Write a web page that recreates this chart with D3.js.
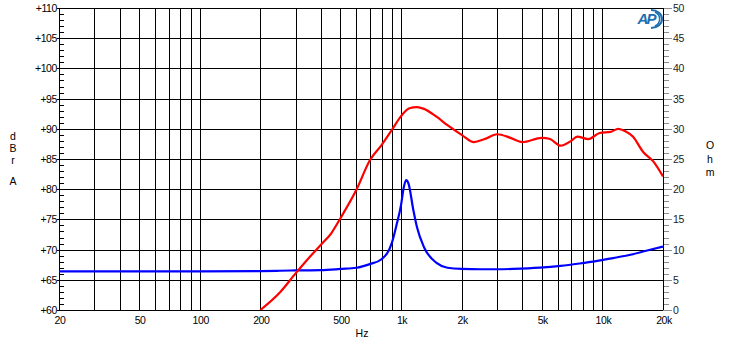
<!DOCTYPE html>
<html>
<head>
<meta charset="utf-8">
<script src="https://cdn.jsdelivr.net/npm/d3@7"></script>
<style>
  body { margin: 0; background: #fff; }
  svg { display: block; font-family: "Liberation Sans", Arial, sans-serif; }
</style>
</head>
<body>
<svg id="chart" width="730" height="343"></svg>
<script>
// SPL response (dBrA) and impedance (Ohm)
var splFreq = [200, 250, 300, 350, 400, 450, 500, 600, 700, 800, 900, 1000, 1100, 1200, 1300, 1500, 1700, 2000, 2300, 2600, 3000, 3500, 4000, 5000, 5500, 6200, 7000, 7500, 8500, 9700, 11000, 12000, 13000, 14200, 15900, 17900, 20000];
var splDb   = [60, 62.9, 66.1, 68.7, 70.8, 72.7, 75.2, 79.9, 84.8, 87.3, 89.8, 92.1, 93.4, 93.6, 93.3, 92.0, 90.6, 89.0, 87.8, 88.3, 89.1, 88.5, 87.8, 88.5, 88.3, 87.2, 88.0, 88.7, 88.3, 89.3, 89.5, 90.0, 89.6, 88.7, 86.2, 84.6, 82.1];

var impFreq = [20, 50, 100, 200, 250, 300, 400, 500, 600, 700, 800, 900, 950, 1000, 1030, 1060, 1090, 1150, 1200, 1300, 1500, 1700, 2000, 2500, 3000, 3600, 4900, 6200, 7700, 9300, 11300, 13600, 16500, 20000];
var impOhm  = [6.4, 6.4, 6.4, 6.45, 6.5, 6.55, 6.6, 6.8, 7.0, 7.6, 8.4, 11.1, 14.1, 17.4, 20.2, 21.5, 20.9, 16.6, 13.7, 10.4, 7.8, 7.0, 6.8, 6.75, 6.75, 6.8, 7.0, 7.3, 7.7, 8.1, 8.6, 9.1, 9.8, 10.5];

var gridFreqs = [20, 30, 40, 50, 60, 70, 80, 90, 100, 200, 300, 400, 500, 600, 700, 800, 900, 1000, 2000, 3000, 4000, 5000, 6000, 7000, 8000, 9000, 10000, 20000];
var xTickVals = [20, 50, 100, 200, 500, 1000, 2000, 5000, 10000, 20000];
var xTickText = ["20", "50", "100", "200", "500", "1k", "2k", "5k", "10k", "20k"];
var dbTicks = [60, 65, 70, 75, 80, 85, 90, 95, 100, 105, 110];
var ohmTicks = [0, 5, 10, 15, 20, 25, 30, 35, 40, 45, 50];

var svg = d3.select("#chart");
var plotL = 59, plotR = 663, plotT = 8, plotB = 310;

var x = d3.scaleLog().domain([20, 20000]).range([plotL, plotR]);
var yDb = d3.scaleLinear().domain([60, 110]).range([plotB, plotT]);
var yOhm = d3.scaleLinear().domain([0, 50]).range([plotB, plotT]);

// grid
svg.append("g").selectAll("line").data(gridFreqs).join("line")
    .attr("x1", d => Math.round(x(d)) + 0.5).attr("x2", d => Math.round(x(d)) + 0.5)
    .attr("y1", plotT).attr("y2", plotB)
    .attr("stroke", "#000").attr("stroke-width", 1);
svg.append("g").selectAll("line").data(dbTicks).join("line")
    .attr("x1", plotL - 2).attr("x2", plotR)
    .attr("y1", d => Math.round(yDb(d)) + 0.5).attr("y2", d => Math.round(yDb(d)) + 0.5)
    .attr("stroke", "#000").attr("stroke-width", 1);

// left minor ticks (inside)
svg.append("g").selectAll("line").data(d3.range(60, 111)).join("line")
    .attr("x1", plotL).attr("x2", plotL + 5)
    .attr("y1", d => Math.round(yDb(d)) + 0.5).attr("y2", d => Math.round(yDb(d)) + 0.5)
    .attr("stroke", "#000");

// right minor ticks (outside, grey)
svg.append("g").selectAll("line").data(d3.range(0, 50.5, 1)).join("line")
    .attr("x1", plotR).attr("x2", d => d % 5 === 0 ? plotR + 9 : plotR + 6)
    .attr("y1", d => Math.round(yOhm(d)) + 0.5).attr("y2", d => Math.round(yOhm(d)) + 0.5)
    .attr("stroke", "#8c8c8c");
svg.append("line").attr("x1", plotR + 0.5).attr("x2", plotR + 0.5).attr("y1", plotT).attr("y2", plotB)
    .attr("stroke", "#000");

// labels
svg.append("g").selectAll("text").data(dbTicks).join("text")
    .attr("x", plotL - 2).attr("y", d => yDb(d) + 4)
    .attr("text-anchor", "end").attr("font-size", 10.5).attr("letter-spacing", -0.4)
    .text(d => "+" + d);
svg.append("g").selectAll("text").data(ohmTicks).join("text")
    .attr("x", plotR + 10).attr("y", d => yOhm(d) + 4)
    .attr("font-size", 10.5).attr("fill", "#222").attr("letter-spacing", -0.3)
    .text(d => d);
svg.append("g").selectAll("text").data(xTickVals).join("text")
    .attr("x", d => x(d) + 1).attr("y", 324)
    .attr("text-anchor", "middle").attr("font-size", 10.5).attr("letter-spacing", -0.4)
    .text((d, i) => xTickText[i]);
svg.append("text").attr("x", 362).attr("y", 337).attr("text-anchor", "middle")
    .attr("font-size", 10.5).text("Hz");

var leftTitle = [["d", 136], ["B", 148], ["r", 160], ["A", 181]];
svg.append("g").selectAll("text").data(leftTitle).join("text")
    .attr("x", 13).attr("y", d => d[1] + 4).attr("text-anchor", "middle")
    .attr("font-size", 10.5).text(d => d[0]);
var rightTitle = [["O", 145], ["h", 159], ["m", 172]];
svg.append("g").selectAll("text").data(rightTitle).join("text")
    .attr("x", 710).attr("y", d => d[1] + 4).attr("text-anchor", "middle")
    .attr("font-size", 10.5).text(d => d[0]);

// curves
svg.append("defs").append("clipPath").attr("id", "plot")
  .append("rect").attr("x", plotL).attr("y", plotT).attr("width", plotR - plotL).attr("height", plotB - plotT);

var splLine = d3.line().curve(d3.curveMonotoneX)
    .x((d, i) => x(splFreq[i])).y(d => yDb(d));
var impLine = d3.line().curve(d3.curveMonotoneX)
    .x((d, i) => x(impFreq[i])).y(d => yOhm(d));

svg.append("path").datum(impOhm).attr("d", impLine)
    .attr("fill", "none").attr("stroke", "#0000ff").attr("stroke-width", 2.2)
    .attr("clip-path", "url(#plot)");
svg.append("path").datum(splDb).attr("d", splLine)
    .attr("fill", "none").attr("stroke", "#ff0000").attr("stroke-width", 2.2)
    .attr("clip-path", "url(#plot)");

// AP logo
var logo = svg.append("g").attr("transform", "translate(648,19)");
logo.append("path").attr("d", "M3,-9 A11,9 0 0 1 3,9")
    .attr("fill", "none").attr("stroke", "#1e6fb0").attr("stroke-width", 2);
logo.append("path").attr("d", "M7,-7 A9,8 0 0 1 7,7")
    .attr("fill", "none").attr("stroke", "#1e6fb0").attr("stroke-width", 1.5);
logo.append("text").attr("x", -2).attr("y", 5).attr("text-anchor", "middle")
    .attr("font-size", 15).attr("font-weight", "bold").attr("font-style", "italic")
    .attr("fill", "#1e6fb0").attr("letter-spacing", -2).text("AP");
</script>
</body>
</html>
